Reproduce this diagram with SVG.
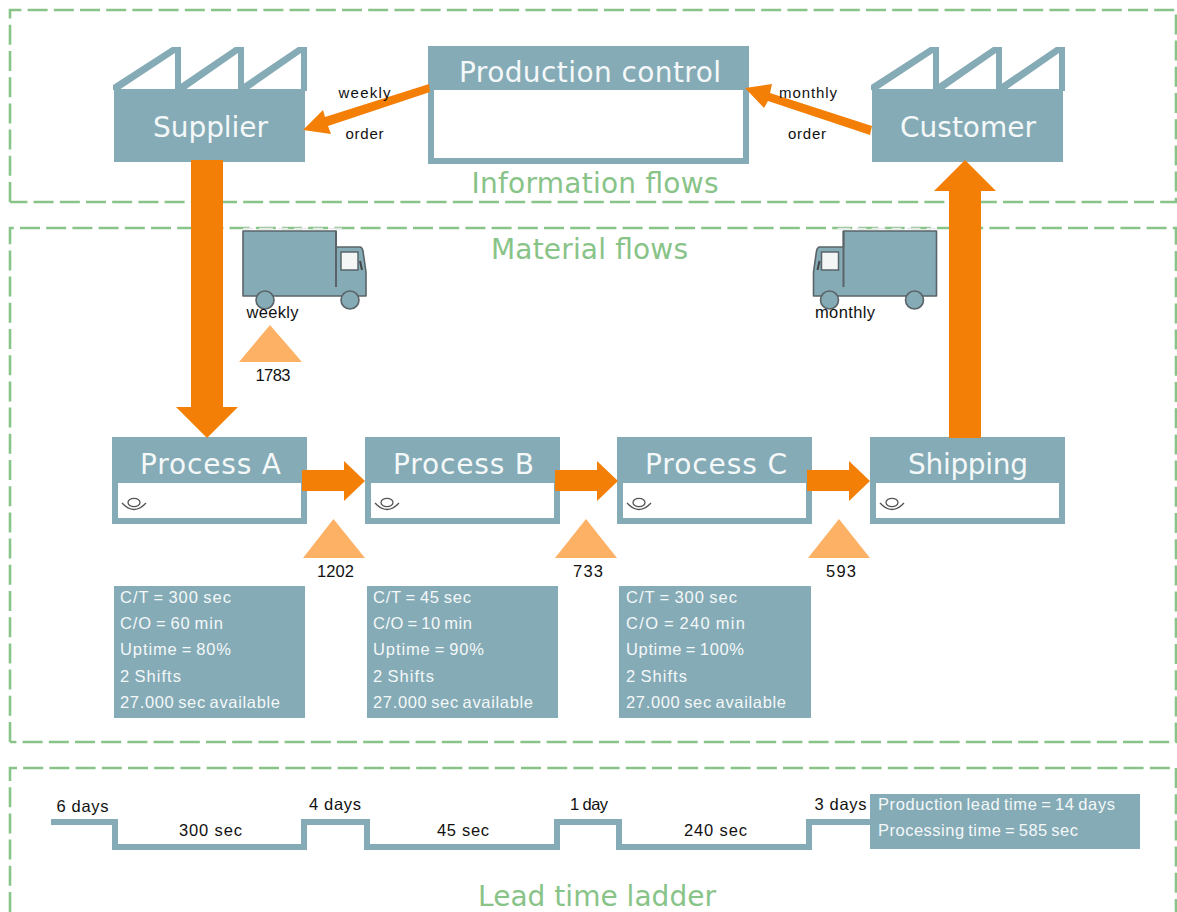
<svg xmlns="http://www.w3.org/2000/svg" width="1177" height="912" viewBox="0 0 1177 912">
<defs>
<style>
.zone{fill:none;stroke:#88c388;stroke-width:2.600;stroke-dasharray:20 6.200}
.tz{font-family:"DejaVu Sans",sans-serif;font-size:28px;fill:#88c388;text-anchor:middle}
.tn{font-family:"DejaVu Sans",sans-serif;font-size:28px;fill:#f4f8f9;text-anchor:middle}
.fill{fill:#85abb6}
.ln{fill:none;stroke:#85abb6;stroke-width:6}
.lb{font-family:"Liberation Sans",Arial,sans-serif;font-size:15px;fill:#111;text-anchor:middle}
.lg{font-family:"Liberation Sans",Arial,sans-serif;font-size:16.500px;fill:#111;text-anchor:middle}
.dt{font-family:"Liberation Sans",Arial,sans-serif;font-size:16.500px;fill:#f4f8f9;word-spacing:-1.500px}
.ar{fill:#f47f07}
.inv{fill:#fdb165}
.trk{fill:#85abb6;stroke:#5a6468;stroke-width:1.600;stroke-linejoin:round}
.eye{fill:none;stroke:#555;stroke-width:1.300}
</style>
<g id="fac">
<rect class="fill" x="114" y="89" width="191" height="73"/>
<polygon class="fill" points="113,85 172,47 181,47 181,91 175,91 175,53 119,90 113,90"/>
<polygon class="fill" points="179,85 235,47 244,47 244,91 238,91 238,53 185,90 179,90"/>
<polygon class="fill" points="242,85 298,47 307,47 307,91 301,91 301,53 248,90 242,90"/>
</g>
<g id="eyei">
<ellipse class="eye" cx="15" cy="7.500" rx="6" ry="4.200"/>
<path class="eye" d="M3 8Q15 21 27 8"/>
</g>
<g id="t1">
<path class="trk" d="M243 231H336V247H360Q362 247 363 251L366 272V296H243Z"/>
<path d="M336 231V287" fill="none" stroke="#5a6468" stroke-width="2"/>
<rect x="341" y="252" width="17" height="18" fill="#f4f6f6" stroke="#5a6468" stroke-width="1.500"/>
<path d="M360 261L362 270" stroke="#444" stroke-width="2" fill="none"/>
<circle class="trk" cx="265" cy="300" r="9"/>
<circle class="trk" cx="350" cy="300" r="9"/>
<path d="M243 228.500H342" stroke="#e9e6ee" stroke-width="1.500" stroke-dasharray="10 6 14 5"/>
</g>
</defs>

<g id="zones">
<path class="zone" d="M10 202V10H1176V202H10"/>
<path class="zone" d="M10 742V228H1176V742H10"/>
<path class="zone" d="M10 912V768H1176V912"/>
<text class="tz" x="595" y="193" textLength="247">Information flows</text>
<text class="tz" x="589.500" y="259" textLength="197">Material flows</text>
<text class="tz" x="597" y="906" textLength="238">Lead time ladder</text>
</g>

<g id="supplier"><use href="#fac"/><text class="tn" x="210.500" y="137" textLength="115">Supplier</text></g>
<g id="customer"><use href="#fac" x="758"/><text class="tn" x="968" y="137" textLength="136">Customer</text></g>
<g id="production-control">
<rect class="fill" x="428" y="46" width="321" height="118"/>
<rect x="434" y="90" width="309" height="68" fill="#fff"/>
<text class="tn" x="590" y="82" textLength="262">Production control</text>
</g>

<g id="truck-weekly"><use href="#t1"/></g>
<g id="truck-monthly"><use href="#t1" transform="matrix(-1 0 0 1 1179.500 0)"/></g>

<g id="process-a">
<rect class="fill" x="112" y="437" width="195" height="87"/><rect x="118" y="483" width="183" height="35" fill="#fff"/>
<use href="#eyei" x="119" y="495"/>
<text class="tn" x="210.500" y="474" textLength="141">Process A</text>
</g>
<g id="process-b">
<rect class="fill" x="365" y="437" width="195" height="87"/><rect x="371" y="483" width="183" height="35" fill="#fff"/>
<use href="#eyei" x="372" y="495"/>
<text class="tn" x="463.500" y="474" textLength="141">Process B</text>
</g>
<g id="process-c">
<rect class="fill" x="617" y="437" width="195" height="87"/><rect x="623" y="483" width="183" height="35" fill="#fff"/>
<use href="#eyei" x="624" y="495"/>
<text class="tn" x="716" y="474" textLength="142">Process C</text>
</g>
<g id="shipping">
<rect class="fill" x="870" y="437" width="195" height="87"/><rect x="876" y="483" width="183" height="35" fill="#fff"/>
<use href="#eyei" x="877" y="495"/>
<text class="tn" x="968" y="474" textLength="120">Shipping</text>
</g>

<g id="connectors">
<polygon class="ar" points="191,160 223,160 223,407 238,407 207,438 176,407 191,407"/>
<polygon class="ar" points="949,438 981,438 981,191 996,191 965,160 934,191 949,191"/>
<polygon class="ar" points="429,84 430,92 328,126 331,134 303,130 323,110 325,117"/>
<polygon class="ar" points="872,126 870,135 768,101 764,108 745,88 772,84 770,93"/>
<polygon class="ar" points="302,470 344,470 344,461 365,481 344,501 344,491 302,491"/>
<polygon class="ar" points="555,470 597,470 597,461 618,481 597,501 597,491 555,491"/>
<polygon class="ar" points="807,470 849,470 849,461 870,481 849,501 849,491 807,491"/>
</g>

<g id="labels-top">
<text class="lb" x="364.500" y="98" textLength="52">weekly</text>
<text class="lb" x="364.500" y="139" textLength="38">order</text>
<text class="lb" x="808" y="98" textLength="58">monthly</text>
<text class="lb" x="807" y="139" textLength="38">order</text>
<text class="lg" x="272.500" y="318" textLength="52">weekly</text>
<text class="lg" x="845" y="318" textLength="60">monthly</text>
</g>

<g id="inventory-1783"><polygon class="inv" points="270,325 302,362 239,362"/><text class="lg" x="273" y="381" textLength="35">1783</text></g>
<g id="inventory-1202"><polygon class="inv" points="333.500,519 365,558 303,558"/><text class="lg" x="335.500" y="577" textLength="37">1202</text></g>
<g id="inventory-733"><polygon class="inv" points="586,519 617,558 555,558"/><text class="lg" x="588" y="577" textLength="30">733</text></g>
<g id="inventory-593"><polygon class="inv" points="839,519 870,558 808,558"/><text class="lg" x="841" y="577" textLength="30">593</text></g>

<g id="data-a">
<rect class="fill" x="114" y="586" width="191" height="132"/>
<text class="dt" x="120" y="603" textLength="111">C/T = 300 sec</text>
<text class="dt" x="120" y="629" textLength="103">C/O = 60 min</text>
<text class="dt" x="120" y="655" textLength="111">Uptime = 80%</text>
<text class="dt" x="120" y="682" textLength="61">2 Shifts</text>
<text class="dt" x="120" y="708" textLength="160">27.000 sec available</text>
</g>
<g id="data-b">
<rect class="fill" x="367" y="586" width="191" height="132"/>
<text class="dt" x="373" y="603" textLength="98">C/T = 45 sec</text>
<text class="dt" x="373" y="629" textLength="99">C/O = 10 min</text>
<text class="dt" x="373" y="655" textLength="111">Uptime = 90%</text>
<text class="dt" x="373" y="682" textLength="61">2 Shifts</text>
<text class="dt" x="373" y="708" textLength="160">27.000 sec available</text>
</g>
<g id="data-c">
<rect class="fill" x="619" y="586" width="192" height="132"/>
<text class="dt" x="626" y="603" textLength="111">C/T = 300 sec</text>
<text class="dt" x="626" y="629" textLength="119">C/O = 240 min</text>
<text class="dt" x="626" y="655" textLength="118">Uptime = 100%</text>
<text class="dt" x="626" y="682" textLength="61">2 Shifts</text>
<text class="dt" x="626" y="708" textLength="160">27.000 sec available</text>
</g>

<g id="ladder">
<path class="ln" d="M51 822H115V847H304V822H367V847H557V822H619V847H809V822H872"/>
<text class="lg" x="82.500" y="812" textLength="52">6 days</text>
<text class="lg" x="335" y="810" textLength="52">4 days</text>
<text class="lg" x="589" y="810" textLength="38">1 day</text>
<text class="lg" x="840.500" y="810" textLength="52">3 days</text>
<text class="lg" x="210.500" y="836" textLength="63">300 sec</text>
<text class="lg" x="463" y="836" textLength="52">45 sec</text>
<text class="lg" x="715.500" y="836" textLength="63">240 sec</text>
<rect class="fill" x="870" y="794" width="270" height="55"/>
<text class="dt" x="878" y="810" textLength="237">Production lead time = 14 days</text>
<text class="dt" x="878" y="836" textLength="200">Processing time = 585 sec</text>
</g>
</svg>
